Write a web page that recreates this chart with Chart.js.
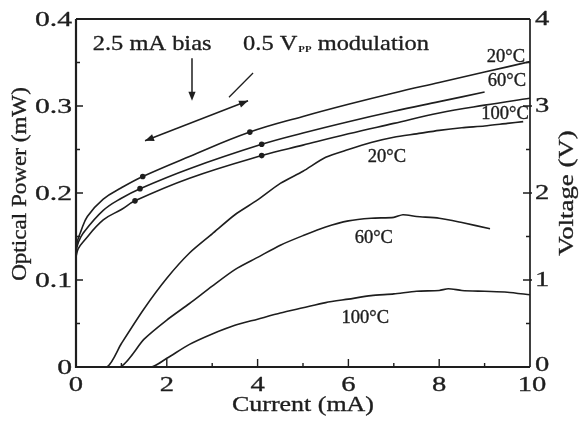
<!DOCTYPE html>
<html><head><meta charset="utf-8">
<script src="https://cdn.jsdelivr.net/npm/chart.js@4.4.1/dist/chart.umd.min.js"></script>
<style>html,body{margin:0;padding:0;background:#fff;}#wrap{width:580px;height:421px;}</style>
</head><body><div id="wrap"><canvas id="c" width="580" height="421"></canvas></div>
<script>
// ---- Voltage (right axis, V) vs current (mA)
const current20V = [0,0.05,0.1,0.25,0.6,1.0,1.47,2.5,3.83,5,6,7,8,9,10];
const volt20 = [1.38,1.48,1.55,1.73,1.93,2.06,2.19,2.42,2.70,2.88,3.02,3.15,3.27,3.39,3.51];
const current60V = [0,0.05,0.16,0.6,1.0,1.41,2.5,4.09,5,6,7,8,9.0];
const volt60 = [1.33,1.43,1.54,1.80,1.94,2.05,2.28,2.56,2.69,2.82,2.94,3.05,3.16];
const current100V = [0,0.05,0.16,0.6,1.0,1.30,2.5,4.09,5,6,7,8,9,10];
const volt100 = [1.27,1.36,1.44,1.69,1.81,1.91,2.17,2.43,2.55,2.68,2.80,2.92,3.01,3.09];
// marker dots on voltage curves
const mark20I = [1.47,3.83], mark20V = [2.19,2.70];
const mark60I = [1.41,4.09], mark60V = [2.05,2.56];
const mark100I = [1.30,4.09], mark100V = [1.91,2.43];
// ---- Optical power (left axis, mW) vs current (mA)
const current20P = [0,0.68,1.0,1.5,2.0,2.5,3.0,3.5,4.0,4.5,5.0,5.5,6.0,6.5,7.0,7.5,8.0,8.5,9.0,9.5,9.85];
const power20 = [0,0,0.027,0.067,0.102,0.131,0.153,0.175,0.192,0.211,0.225,0.241,0.250,0.258,0.264,0.268,0.272,0.275,0.277,0.280,0.282];
const current60P = [0,0.97,1.5,2.0,2.5,3.0,3.5,4.0,4.5,5.0,5.5,6.0,6.5,7.0,7.2,7.5,8.0,8.5,9.12];
const power60 = [0,0,0.032,0.054,0.073,0.093,0.112,0.126,0.140,0.151,0.161,0.168,0.171,0.172,0.175,0.173,0.171,0.166,0.159];
const current100P = [0,1.65,2.0,2.5,3.0,3.5,4.0,4.5,5.0,5.5,6.0,6.5,7.0,7.5,8.0,8.2,8.5,9.0,9.5,10];
const power100 = [0,0,0.010,0.026,0.038,0.048,0.055,0.062,0.068,0.074,0.078,0.082,0.084,0.087,0.088,0.090,0.088,0.087,0.086,0.083];
// ---- ticks
const xTicks = [0,2,4,6,8,10];
const xMinor = [1,3,5,7,9];
const yTicks = [0,0.1,0.2,0.3,0.4];
const yTickLabels = ['0','0.1','0.2','0.3','0.4'];
const yMinor = [0.05,0.15,0.25,0.35];
const y2Ticks = [0,1,2,3,4];
const y2Minor = [0.5,1.5,2.5,3.5];
// ---- texts
const xTitle = 'Current (mA)';
const yTitle = 'Optical Power (mW)';
const y2Title = 'Voltage (V)';
const tempLabels = ['20°C','60°C','100°C'];

const INK = '#1e1e1e';
const SERIF = '"Liberation Serif","Times New Roman",serif';
const pts = (xs, ys) => xs.map((x,i)=>({x, y: ys[i]}));

function lineDs(xs, ys, axis, tension){
  return {data: pts(xs,ys), yAxisID: axis, borderColor: INK, borderWidth: 1.6,
    pointRadius: 0, tension: tension, fill: false};
}
function markDs(xs, ys){
  return {data: pts(xs,ys), yAxisID: 'y2', showLine: false, pointRadius: 2.8,
    pointBackgroundColor: INK, pointBorderColor: INK, pointBorderWidth: 0};
}

function txt(ctx, s, x, y, size, sx, align, base, rot){
  ctx.save();
  ctx.translate(x,y);
  if (rot) ctx.rotate(rot);
  ctx.scale(sx,1);
  ctx.font = size + 'px ' + SERIF;
  ctx.textAlign = align; ctx.textBaseline = base;
  ctx.fillStyle = INK; ctx.strokeStyle = INK; ctx.lineWidth = 0.35; ctx.lineJoin = 'round';
  ctx.fillText(s,0,0);
  ctx.strokeText(s,0,0);
  ctx.restore();
}
function arrowHead(ctx, x1,y1,x2,y2){
  const a = Math.atan2(y2-y1, x2-x1), L = 9, W = 3.6;
  ctx.beginPath();
  ctx.moveTo(x2,y2);
  ctx.lineTo(x2 - L*Math.cos(a) + W*Math.sin(a), y2 - L*Math.sin(a) - W*Math.cos(a));
  ctx.lineTo(x2 - L*Math.cos(a) - W*Math.sin(a), y2 - L*Math.sin(a) + W*Math.cos(a));
  ctx.closePath(); ctx.fill();
}

const decor = {
  id: 'decor',
  afterDraw(chart){
    const ctx = chart.ctx, a = chart.chartArea;
    const X = chart.scales.x, Y = chart.scales.y, Y2 = chart.scales.y2;
    ctx.save();
    ctx.strokeStyle = INK; ctx.fillStyle = INK; ctx.lineCap = 'butt';
    // frame
    ctx.lineWidth = 2.2;
    ctx.beginPath();
    ctx.moveTo(a.left, a.top); ctx.lineTo(a.left, a.bottom); ctx.lineTo(a.right, a.bottom);
    ctx.moveTo(a.left, a.top); ctx.lineTo(a.right, a.top);
    ctx.stroke();
    ctx.lineWidth = 1.7;
    ctx.beginPath(); ctx.moveTo(a.right, a.top); ctx.lineTo(a.right, a.bottom); ctx.stroke();
    // ticks
    ctx.lineWidth = 1.4;
    ctx.beginPath();
    xTicks.forEach(v=>{ const p = X.getPixelForValue(v); if (v>0 && v<10){ctx.moveTo(p,a.bottom); ctx.lineTo(p,a.bottom-8);} });
    xMinor.forEach(v=>{ const p = X.getPixelForValue(v); ctx.moveTo(p,a.bottom); ctx.lineTo(p,a.bottom-4); });
    yTicks.forEach(v=>{ const p = Y.getPixelForValue(v); if (v>0 && v<0.4){ctx.moveTo(a.left,p); ctx.lineTo(a.left+7,p);} });
    yMinor.forEach(v=>{ const p = Y.getPixelForValue(v); ctx.moveTo(a.left,p); ctx.lineTo(a.left+4,p); });
    y2Ticks.forEach(v=>{ const p = Y2.getPixelForValue(v); if (v>0 && v<4){ctx.moveTo(a.right+2,p); ctx.lineTo(a.right-7,p);} });
    y2Minor.forEach(v=>{ const p = Y2.getPixelForValue(v); ctx.moveTo(a.right,p); ctx.lineTo(a.right-4,p); });
    ctx.stroke();
    // tick labels
    xTicks.forEach(v=> txt(ctx, String(v), X.getPixelForValue(v) + (v===10?2:0), a.bottom+7, 22, 1.3, 'center', 'top'));
    yTicks.forEach((v,i)=> txt(ctx, yTickLabels[i], a.left-4, Y.getPixelForValue(v)+1, 22, 1.35, 'right', 'middle'));
    y2Ticks.forEach(v=> txt(ctx, String(v), a.right+5, Y2.getPixelForValue(v)+(v===0?-2:0), 22, 1.3, 'left', 'middle'));
    // axis titles
    txt(ctx, xTitle, (a.left+a.right)/2, a.bottom+38, 22, 1.18, 'center', 'middle');
    txt(ctx, yTitle, 20, 184, 22, 1.05, 'center', 'middle', -Math.PI/2);
    txt(ctx, y2Title, 567, 193, 22, 1.22, 'center', 'middle', -Math.PI/2);
    // annotations
    txt(ctx, '2.5 mA bias', X.getPixelForValue(0.37), Y.getPixelForValue(0.364), 22, 1.11, 'left', 'alphabetic');
    let sx = X.getPixelForValue(3.68), sy = Y.getPixelForValue(0.364);
    ctx.font = '22px ' + SERIF;
    const w1 = ctx.measureText('0.5 V').width * 1.11;
    txt(ctx, '0.5 V', sx, sy, 22, 1.11, 'left', 'alphabetic');
    ctx.font = 'bold 9px ' + SERIF;
    const w2 = ctx.measureText('PP').width * 1.2;
    ctx.save(); ctx.translate(sx+w1+1, sy+2); ctx.scale(1.2,1); ctx.font='bold 9px '+SERIF; ctx.textAlign='left'; ctx.textBaseline='alphabetic'; ctx.fillText('PP',0,0); ctx.restore();
    txt(ctx, ' modulation', sx+w1+w2+1, sy, 22, 1.11, 'left', 'alphabetic');
    // arrows
    ctx.lineWidth = 1.5;
    let ax = X.getPixelForValue(2.555), ay1 = Y.getPixelForValue(0.355), ay2 = Y.getPixelForValue(0.306);
    ctx.beginPath(); ctx.moveTo(ax, ay1); ctx.lineTo(ax, ay2-4); ctx.stroke();
    arrowHead(ctx, ax, ay1, ax, ay2);
    let bx1 = X.getPixelForValue(1.52), by1 = Y.getPixelForValue(0.260), bx2 = X.getPixelForValue(3.79), by2 = Y.getPixelForValue(0.306);
    ctx.beginPath(); ctx.moveTo(bx1, by1); ctx.lineTo(bx2, by2); ctx.stroke();
    arrowHead(ctx, bx1, by1, bx2, by2); arrowHead(ctx, bx2, by2, bx1, by1);
    ctx.lineWidth = 1.3;
    ctx.beginPath(); ctx.moveTo(X.getPixelForValue(3.37), Y.getPixelForValue(0.310)); ctx.lineTo(X.getPixelForValue(3.90), Y.getPixelForValue(0.338)); ctx.stroke();
    // temperature labels
    txt(ctx, tempLabels[0], X.getPixelForValue(9.47), Y2.getPixelForValue(3.56), 18, 1.03, 'center', 'middle');
    txt(ctx, tempLabels[1], X.getPixelForValue(9.49), Y2.getPixelForValue(3.28), 18, 1.03, 'center', 'middle');
    txt(ctx, tempLabels[2], X.getPixelForValue(9.45), Y2.getPixelForValue(2.91), 18, 1.03, 'center', 'middle');
    txt(ctx, tempLabels[0], X.getPixelForValue(6.85), Y.getPixelForValue(0.241), 18, 1.03, 'center', 'middle');
    txt(ctx, tempLabels[1], X.getPixelForValue(6.56), Y.getPixelForValue(0.148), 18, 1.03, 'center', 'middle');
    txt(ctx, tempLabels[2], X.getPixelForValue(6.37), Y.getPixelForValue(0.056), 18, 1.03, 'center', 'middle');
    ctx.restore();
  }
};

new Chart(document.getElementById('c'), {
  type: 'line',
  data: { datasets: [
    lineDs(current20V, volt20, 'y2', 0.4),
    lineDs(current60V, volt60, 'y2', 0.4),
    lineDs(current100V, volt100, 'y2', 0.4),
    lineDs(current20P, power20, 'y', 0.25),
    lineDs(current60P, power60, 'y', 0.25),
    lineDs(current100P, power100, 'y', 0.25),
    markDs(mark20I, mark20V), markDs(mark60I, mark60V), markDs(mark100I, mark100V)
  ]},
  options: {
    responsive: false, animation: false, devicePixelRatio: 1,
    layout: { padding: { left: 76, right: 50, top: 19, bottom: 54 } },
    plugins: { legend: { display: false }, tooltip: { enabled: false } },
    scales: {
      x: { type: 'linear', min: 0, max: 10, display: false },
      y: { type: 'linear', min: 0, max: 0.4, display: false },
      y2: { type: 'linear', min: 0, max: 4, display: false, position: 'right' }
    }
  },
  plugins: [decor]
});
</script></body></html>
